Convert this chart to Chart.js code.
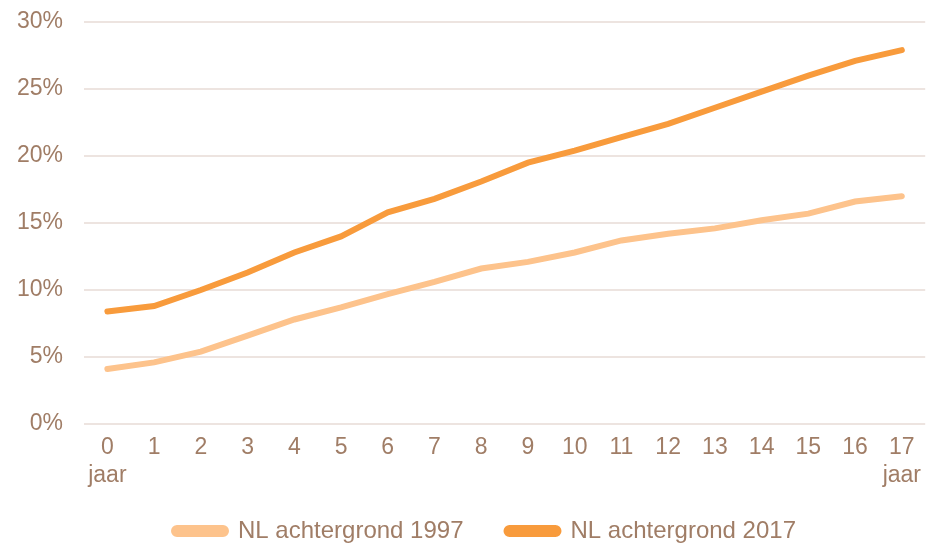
<!DOCTYPE html>
<html>
<head>
<meta charset="utf-8">
<script src="https://cdn.jsdelivr.net/npm/chart.js@4/dist/chart.umd.min.js"></script>
<style>
  html, body { margin: 0; padding: 0; background: #fff; }
  #wrap { width: 930px; height: 548px; }
</style>
</head>
<body>
<div id="wrap"><canvas id="chart"></canvas></div>
<script>
// ─── Data ────────────────────────────────────────
const ages = ['0', '1', '2', '3', '4', '5', '6', '7', '8', '9', '10', '11', '12', '13', '14', '15', '16', '17'];
const nl1997 = [4.1, 4.6, 5.4, 6.6, 7.8, 8.7, 9.7, 10.6, 11.6, 12.1, 12.8, 13.7, 14.2, 14.6, 15.2, 15.7, 16.6, 17.0];
const nl2017 = [8.4, 8.8, 10.0, 11.3, 12.8, 14.0, 15.8, 16.8, 18.1, 19.5, 20.4, 21.4, 22.4, 23.6, 24.8, 26.0, 27.1, 27.9];
const yTicks = [0, 5, 10, 15, 20, 25, 30];

const TEXT = '#A07D66';
const GRID = '#EDE4E0';
const LIGHT = '#FDC38C';
const DARK = '#F89B3C';
const FONT = "'Liberation Sans', Arial, sans-serif";

// 0 and 17 get a second line "jaar"
const xLabels = ages.map((a, i) => (i === 0 || i === ages.length - 1) ? [a, 'jaar'] : a);

// legend sits a bit right of centre and tucked up under the axis labels
const legendNudge = {
  id: 'legendNudge',
  afterLayout(chart) {
    const lg = chart.legend;
    if (!lg) return;
    lg.left += 20; lg.right += 20;
    lg.top -= 16; // bottom stays put, so the box still holds the row
  },
};

new Chart(document.getElementById('chart'), {
  type: 'line',
  data: {
    labels: xLabels,
    datasets: [
      {
        label: 'NL achtergrond 1997',
        data: nl1997,
        borderColor: LIGHT,
        backgroundColor: LIGHT,
        borderWidth: 6,
        borderCapStyle: 'round',
        pointRadius: 0,
        tension: 0,
      },
      {
        label: 'NL achtergrond 2017',
        data: nl2017,
        borderColor: DARK,
        backgroundColor: DARK,
        borderWidth: 6,
        borderCapStyle: 'round',
        pointRadius: 0,
        tension: 0,
      },
    ],
  },
  options: {
    responsive: true,
    maintainAspectRatio: false,
    animation: false,
    layout: { padding: { top: 22, right: 0, left: 0, bottom: 0 } },
    plugins: {
      legend: {
        position: 'bottom',
        maxHeight: 56,
        labels: {
          boxWidth: 52,
          boxHeight: 6,
          useBorderRadius: true,
          borderRadius: 3,
          padding: 43,
          color: TEXT,
          font: { size: 24, family: FONT },
        },
      },
      tooltip: { enabled: false },
    },
    scales: {
      x: {
        offset: true,
        afterFit: (axis) => { axis.height = 68; },
        grid: { display: false, drawTicks: false },
        border: { display: false },
        ticks: {
          color: TEXT,
          font: { size: 23, family: FONT, lineHeight: 1.25 },
          padding: 9,
          maxRotation: 0,
          autoSkip: false,
        },
      },
      y: {
        min: 0,
        max: 30,
        afterBuildTicks: (axis) => { axis.ticks = yTicks.map(v => ({ value: v })); },
        afterFit: (axis) => {
          axis.width = 84;
          axis.paddingTop = 0;
          axis.paddingBottom = 0;
        },
        grid: { color: GRID, lineWidth: 2, drawTicks: false },
        border: { display: false },
        ticks: {
          color: TEXT,
          padding: 21,
          font: { size: 23, family: FONT },
          callback: (v) => v + '%',
        },
      },
    },
  },
  plugins: [legendNudge],
});
</script>
</body>
</html>
